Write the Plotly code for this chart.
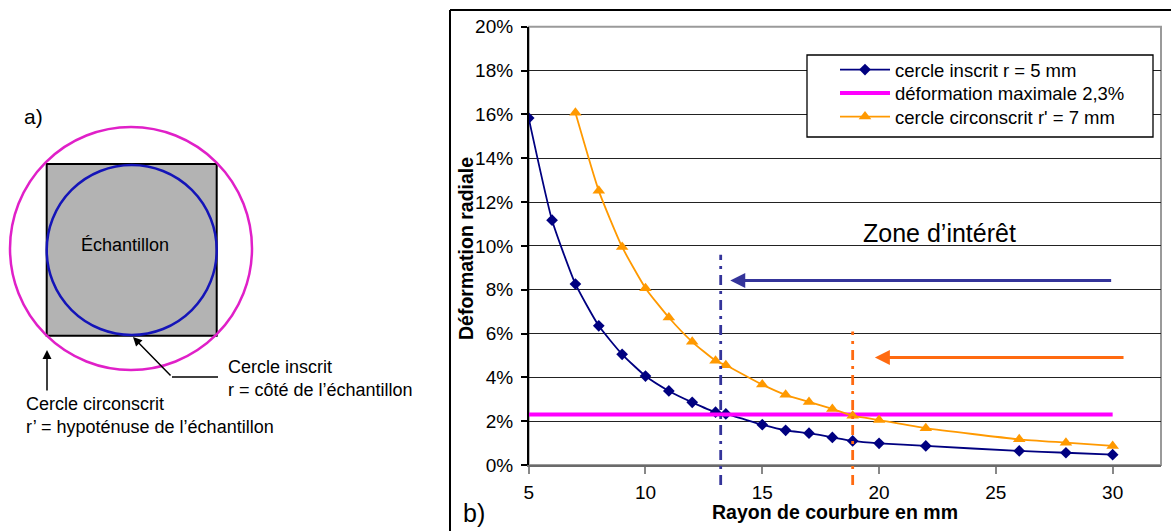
import plotly.graph_objects as go

W, H = 1171, 531

# ---------------- data ----------------
rayon_inscrit = [5, 6, 7, 8, 9, 10, 11, 12, 13, 13.44, 15, 16, 17, 18, 18.87, 20, 22, 26, 28, 30]
def_inscrit = [15.83, 11.17, 8.26, 6.35, 5.05, 4.06, 3.38, 2.86, 2.41, 2.33, 1.84, 1.58, 1.45, 1.26, 1.10, 0.99, 0.87, 0.64, 0.56, 0.47]

rayon_circ = [7, 8, 9, 10, 11, 12, 13, 13.44, 15, 16, 17, 18, 18.87, 20, 22, 26, 28, 30]
def_circ = [16.07, 12.51, 9.95, 8.07, 6.73, 5.62, 4.76, 4.55, 3.67, 3.20, 2.88, 2.56, 2.25, 2.05, 1.68, 1.17, 1.02, 0.87]

rayon_max = [5, 30]
def_max = [2.3, 2.3]

noms = ["cercle inscrit r = 5 mm", "déformation maximale 2,3%", "cercle circonscrit r' = 7 mm"]

y_ticks = [0, 2, 4, 6, 8, 10, 12, 14, 16, 18, 20]
x_ticks = [5, 10, 15, 20, 25, 30]
x_range = [5, 32.07]
y_range = [0, 20]

# seuils (rayon limite) et flèches "zone d'intérêt"
seuil_inscrit_x, seuil_inscrit_top = 13.22, 9.59
seuil_circ_x, seuil_circ_top = 18.87, 6.09
fleche_bleue = dict(x_head=13.63, x_tail=30.0, y=8.42)
fleche_orange = dict(x_head=19.82, x_tail=30.53, y=4.90)

BLUE = "#000080"
ORANGE = "#ff9900"
MAGENTA = "#ff00ff"
SLATE = "#34349a"
RED_OR = "#ff6a10"
FONT = "Liberation Sans, Arial, sans-serif"

def px(x):
    return x / W

def py(y):
    return 1 - y / H

fig = go.Figure()

fig.add_trace(go.Scatter(
    x=rayon_inscrit, y=[v / 100 for v in def_inscrit], name=noms[0], legend="legend",
    mode="lines+markers", line=dict(color=BLUE, width=1.8, shape="spline", smoothing=0.5),
    marker=dict(symbol="diamond", size=9, color=BLUE)))
fig.add_trace(go.Scatter(
    x=rayon_max, y=[v / 100 for v in def_max], name=noms[1], legend="legend2",
    mode="lines", line=dict(color=MAGENTA, width=4)))
fig.add_trace(go.Scatter(
    x=rayon_circ, y=[v / 100 for v in def_circ], name=noms[2], legend="legend3",
    mode="lines+markers", line=dict(color=ORANGE, width=1.8, shape="spline", smoothing=0.5),
    marker=dict(symbol="triangle-up", size=11, color=ORANGE)))

# plot area placement (pixels)
pl, pr, pt, pb = 528.7, 1161, 26.7, 465

def leg(ycenter):
    return dict(x=px(835), y=py(ycenter - 18), xanchor="left", yanchor="top",
                bgcolor="rgba(0,0,0,0)", borderwidth=0,
                font=dict(size=18.5, family=FONT, color="black"), itemwidth=50)

fig.update_layout(
    width=W, height=H,
    margin=dict(l=0, r=0, t=0, b=0),
    paper_bgcolor="white", plot_bgcolor="white",
    font=dict(family=FONT, color="black", size=18),
    showlegend=True,
    legend=leg(69), legend2=leg(92.5), legend3=leg(116),
    xaxis=dict(domain=[px(pl), px(pr)], range=x_range, tickvals=x_ticks,
               showgrid=False, zeroline=False, showline=True, linecolor="#6a6a6a",
               linewidth=1.5, ticks="outside", ticklen=7, tickcolor="#888",
               tickwidth=1.5, tickfont=dict(size=19), ticklabelstandoff=2, automargin=False),
    yaxis=dict(domain=[py(pb), py(pt)], range=[v / 100 for v in y_range],
               tickvals=[v / 100 for v in y_ticks], tickformat=".0%",
               showgrid=True, gridcolor="#222", gridwidth=1, zeroline=False,
               showline=True, linecolor="black", linewidth=1.5,
               ticks="outside", ticklen=6, tickcolor="black", tickwidth=1.5,
               tickfont=dict(size=19), ticklabelstandoff=4, automargin=False),
)

shapes = []
# plot-area frame (gray)
shapes.append(dict(type="rect", xref="x domain", yref="y domain", x0=0, x1=1, y0=0, y1=1,
                   line=dict(color="#9a9a9a", width=2), layer="below"))
# outer frame of chart b (only top and left visible)
shapes.append(dict(type="line", xref="paper", yref="paper", x0=px(450), x1=1, y0=py(10), y1=py(10),
                   line=dict(color="black", width=2)))
shapes.append(dict(type="line", xref="paper", yref="paper", x0=px(450), x1=px(450), y0=py(10), y1=0,
                   line=dict(color="black", width=2)))
# legend box
shapes.append(dict(type="rect", xref="paper", yref="paper", x0=px(807), x1=px(1153), y0=py(55), y1=py(137),
                   line=dict(color="black", width=1.3), fillcolor="white", layer="above"))
# vertical threshold lines
ext = -20 / (pb - pt)
shapes.append(dict(type="line", xref="x", yref="y domain", x0=seuil_inscrit_x, x1=seuil_inscrit_x,
                   y0=ext, y1=seuil_inscrit_top / y_range[1],
                   line=dict(color=SLATE, width=2.8, dash="10px,6px,3px,6px")))
shapes.append(dict(type="line", xref="x", yref="y domain", x0=seuil_circ_x, x1=seuil_circ_x,
                   y0=ext, y1=seuil_circ_top / y_range[1],
                   line=dict(color=RED_OR, width=2.8, dash="10px,6px,3px,6px")))

# ---- diagram a) ----
shapes.append(dict(type="rect", xref="paper", yref="paper", x0=px(46.7), x1=px(216.7), y0=py(164), y1=py(335.7),
                   fillcolor="#b3b3b3", line=dict(color="black", width=2)))
shapes.append(dict(type="circle", xref="paper", yref="paper", x0=px(46.7), x1=px(216.7), y0=py(165), y1=py(335),
                   line=dict(color="#1414b8", width=2.5)))
shapes.append(dict(type="circle", xref="paper", yref="paper", x0=px(10), x1=px(252), y0=py(127), y1=py(370),
                   line=dict(color="#e020c8", width=2.5)))
shapes.append(dict(type="line", xref="paper", yref="paper", x0=px(172), x1=px(218), y0=py(377), y1=py(377),
                   line=dict(color="black", width=1.5)))

fig.update_layout(shapes=shapes)

ann = []
# arrows in chart
for f, col in ((fleche_bleue, SLATE), (fleche_orange, RED_OR)):
    ann.append(dict(x=f["x_head"], y=f["y"] / 100, ax=f["x_tail"], ay=f["y"] / 100,
                    xref="x", yref="y", axref="x", ayref="y", text="", showarrow=True,
                    arrowhead=2, arrowsize=1.0, arrowwidth=3, arrowcolor=col, standoff=0))
ann.append(dict(x=22.6, y=0.106, xref="x", yref="y", text="Zone d’intérêt", showarrow=False,
                xanchor="center", yanchor="middle", font=dict(size=25, family=FONT)))

def txt(x, y, s, size=18, anchor="left", angle=0):
    ann.append(dict(x=px(x), y=py(y), xref="paper", yref="paper", text=s, showarrow=False,
                    xanchor=anchor, yanchor="middle", textangle=angle,
                    font=dict(size=size, family=FONT, color="black")))

# axis titles
txt(466, 249, "<b>Déformation radiale</b>", size=19.5, anchor="center", angle=-90)
txt(835, 512, "<b>Rayon de courbure en mm</b>", size=19.5, anchor="center")
txt(474, 513, "b)", size=25, anchor="center")

# diagram texts
txt(22, 117, "a)", size=21)
txt(125, 245, "Échantillon", anchor="center")
txt(226, 367, "Cercle inscrit")
txt(226, 390, "r = côté de l’échantillon")
txt(24, 404, "Cercle circonscrit")
txt(24, 427, "r’ = hypoténuse de l’échantillon")

# diagram arrows
ann.append(dict(x=px(133), y=py(337), xref="paper", yref="paper", ax=172 - 133, ay=377 - 337,
                text="", showarrow=True, arrowhead=2, arrowsize=1.2, arrowwidth=1.5,
                arrowcolor="black", standoff=0))
ann.append(dict(x=px(47), y=py(350), xref="paper", yref="paper", ax=0, ay=392 - 350,
                text="", showarrow=True, arrowhead=2, arrowsize=1.2, arrowwidth=1.5,
                arrowcolor="black", standoff=0))

fig.update_layout(annotations=ann)

fig.write_html("out.html", config={"displayModeBar": False},
               post_script="document.body.style.margin='0';document.body.style.overflow='hidden';")
